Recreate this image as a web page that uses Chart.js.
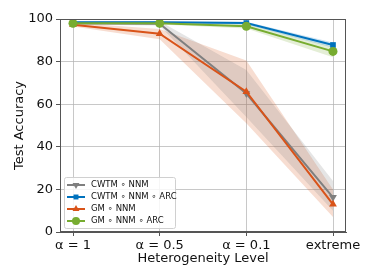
<!DOCTYPE html>
<html>
<head>
<meta charset="utf-8">
<script src="https://cdn.jsdelivr.net/npm/chart.js@4"></script>
<style>
  html, body { margin: 0; padding: 0; background: #fff; }
  #wrap { width: 374px; height: 280px; }
</style>
</head>
<body>
<div id="wrap"><canvas id="chart"></canvas></div>
<script>
// heterogeneity levels on the x axis
const categories = ['α = 1', 'α = 0.5', 'α = 0.1', 'extreme'];
const yTicks = [0, 20, 40, 60, 80, 100];

// mean accuracy per method
const cwtmNnm = [98.0, 97.8, 65.0, 16.3];
const cwtmNnmArc = [98.5, 98.5, 98.1, 87.8];
const gmNnm = [97.3, 93.1, 65.9, 13.0];
const gmNnmArc = [98.0, 98.0, 96.6, 84.8];

// spread (lower / upper edge of shaded band)
const cwtmNnmLow = [97.4, 97.0, 54.0, 10.0];
const cwtmNnmHigh = [98.6, 99.0, 76.0, 24.0];
const cwtmNnmArcLow = [98.0, 98.0, 97.4, 86.5];
const cwtmNnmArcHigh = [99.0, 99.0, 98.7, 89.0];
const gmNnmLow = [96.5, 90.5, 51.0, 7.0];
const gmNnmHigh = [98.2, 95.3, 80.5, 20.0];
const gmNnmArcLow = [97.5, 97.4, 95.5, 82.0];
const gmNnmArcHigh = [98.5, 98.6, 97.6, 87.0];

const FONT = 'DejaVu Sans';

function pts(arr) {
    return arr.map((v, i) => ({ x: i, y: v }));
}

function band(low, high, color) {
    return [
        { data: pts(low), borderWidth: 0, pointRadius: 0, fill: false, isBand: true, order: 10 },
        { data: pts(high), borderWidth: 0, pointRadius: 0, fill: '-1', backgroundColor: color, isBand: true, order: 10 }
    ];
}

const series = [
    { label: 'CWTM ∘ NNM', data: cwtmNnm, color: '#7f7f7f', style: 'triangle', rot: 180 },
    { label: 'CWTM ∘ NNM ∘ ARC', data: cwtmNnmArc, color: '#0072bd', style: 'rect', rot: 0 },
    { label: 'GM ∘ NNM', data: gmNnm, color: '#d95319', style: 'triangle', rot: 0 },
    { label: 'GM ∘ NNM ∘ ARC', data: gmNnmArc, color: '#77ac30', style: 'circle', rot: 0 }
];

const datasets = [
    ...band(cwtmNnmLow, cwtmNnmHigh, 'rgba(127,127,127,0.2)'),
    ...band(cwtmNnmArcLow, cwtmNnmArcHigh, 'rgba(0,114,189,0.2)'),
    ...band(gmNnmLow, gmNnmHigh, 'rgba(217,83,25,0.2)'),
    ...band(gmNnmArcLow, gmNnmArcHigh, 'rgba(119,172,48,0.2)')
];
series.forEach((s, i) => {
    datasets.push({
        label: s.label,
        data: pts(s.data),
        borderColor: s.color,
        backgroundColor: s.color,
        borderWidth: 2,
        pointStyle: s.style,
        pointRotation: s.rot,
        pointRadius: s.style === 'rect' ? 4 : 4.5,
        pointBorderWidth: 0,
        fill: false,
        order: 4 - i
    });
});

// box around the plot and the inset legend
const framePlugin = {
    id: 'frame',
    afterDatasetsDraw(chart) {
        const { ctx, chartArea: a } = chart;
        ctx.save();
        ctx.strokeStyle = '#555';
        ctx.lineWidth = 1;
        ctx.strokeRect(a.left + 0.5, a.top + 0.5, a.right - a.left - 1, a.bottom - a.top - 1);

        // legend
        const x0 = a.left + 4, y0 = a.bottom - 55, w = 111, h = 51;
        ctx.fillStyle = 'rgba(255,255,255,0.85)';
        ctx.strokeStyle = '#d0d0d0';
        ctx.beginPath();
        ctx.roundRect(x0 + 0.5, y0 + 0.5, w, h, 2);
        ctx.fill();
        ctx.stroke();
        ctx.font = '8.5px ' + FONT;
        ctx.textBaseline = 'middle';
        series.forEach((s, i) => {
            const y = y0 + 8 + i * 12;
            ctx.strokeStyle = s.color;
            ctx.lineWidth = 2;
            ctx.beginPath();
            ctx.moveTo(x0 + 3, y);
            ctx.lineTo(x0 + 21, y);
            ctx.stroke();
            ctx.fillStyle = s.color;
            Chart.helpers.drawPoint(ctx, {
                pointStyle: s.style, rotation: s.rot,
                radius: s.style === 'rect' ? 3.5 : 4, borderWidth: 0
            }, x0 + 12, y);
            ctx.fillStyle = '#111';
            ctx.fillText(s.label, x0 + 27, y);
        });
        ctx.restore();
    }
};

new Chart(document.getElementById('chart'), {
    type: 'line',
    data: { datasets },
    options: {
        responsive: true,
        maintainAspectRatio: false,
        animation: false,
        layout: { padding: { top: 19, right: 28, left: 0, bottom: 0 } },
        plugins: {
            legend: { display: false },
            tooltip: { enabled: false }
        },
        scales: {
            x: {
                type: 'linear',
                min: -0.15,
                max: 3.15,
                afterBuildTicks(scale) {
                    scale.ticks = categories.map((c, i) => ({ value: i }));
                },
                afterFit(scale) { scale.height = 48; },
                ticks: {
                    callback: (v) => categories[v],
                    color: '#111',
                    font: { family: FONT, size: 13 },
                    padding: 2,
                    maxRotation: 0,
                    autoSkip: false
                },
                grid: { color: 'rgba(176,176,176,0.7)', tickLength: 4, tickColor: '#555' },
                border: { color: '#555' },
                title: {
                    display: true,
                    text: 'Heterogeneity Level',
                    color: '#111',
                    font: { family: FONT, size: 13 },
                    padding: { top: 0, bottom: 14 }
                }
            },
            y: {
                min: 0,
                max: 100,
                afterBuildTicks(scale) {
                    scale.ticks = yTicks.map(v => ({ value: v }));
                },
                afterFit(scale) { scale.width = 60; },
                ticks: {
                    color: '#111',
                    font: { family: FONT, size: 13 },
                    padding: 3
                },
                grid: { color: 'rgba(176,176,176,0.7)', tickLength: 4, tickColor: '#555' },
                border: { color: '#555' },
                title: {
                    display: true,
                    text: 'Test Accuracy',
                    color: '#111',
                    font: { family: FONT, size: 13 },
                    padding: { top: 12, bottom: 0 }
                }
            }
        }
    },
    plugins: [framePlugin]
});
</script>
</body>
</html>
